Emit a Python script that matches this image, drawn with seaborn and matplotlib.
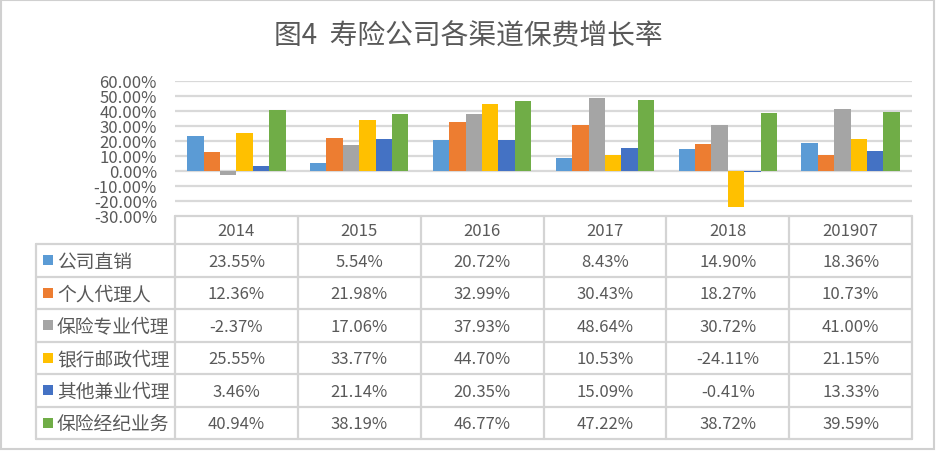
import matplotlib
matplotlib.use("Agg")
import matplotlib.pyplot as plt
import seaborn as sns
import pandas as pd
from matplotlib.patches import Rectangle
from matplotlib.ticker import FuncFormatter

# ---- data ----
title = "图4  寿险公司各渠道保费增长率"
years = ["2014", "2015", "2016", "2017", "2018", "201907"]
channels = ["公司直销", "个人代理人", "保险专业代理", "银行邮政代理", "其他兼业代理", "保险经纪业务"]
direct = [23.55, 5.54, 20.72, 8.43, 14.90, 18.36]
agent = [12.36, 21.98, 32.99, 30.43, 18.27, 10.73]
pro_agency = [-2.37, 17.06, 37.93, 48.64, 30.72, 41.00]
bank_post = [25.55, 33.77, 44.70, 10.53, -24.11, 21.15]
other_agency = [3.46, 21.14, 20.35, 15.09, -0.41, 13.33]
broker = [40.94, 38.19, 46.77, 47.22, 38.72, 39.59]
yticks = [-30, -20, -10, 0, 10, 20, 30, 40, 50, 60]
colors = ["#5B9BD5", "#ED7D31", "#A5A5A5", "#FFC000", "#4472C4", "#70AD47"]

series = [direct, agent, pro_agency, bank_post, other_agency, broker]
df = pd.DataFrame({
    "year": [y for s in series for y in years],
    "channel": [c for c, s in zip(channels, series) for _ in s],
    "value": [v for s in series for v in s],
})

sns.set_theme(style="white")
plt.rcParams["font.family"] = ["Noto Sans CJK SC", "DejaVu Sans"]

W, H = 936, 452
fig = plt.figure(figsize=(W / 100, H / 100), dpi=100)
fig.patch.set_facecolor("white")

txt = "#595959"
gridc = "#D9D9D9"

# plot area (pixel layout)
px0, px1, py_top, py_bot = 175, 912, 82, 217
ax = fig.add_axes([px0 / W, 1 - py_bot / H, (px1 - px0) / W, (py_bot - py_top) / H])
sns.barplot(data=df, x="year", y="value", hue="channel", order=years,
            hue_order=channels, palette=colors, saturation=1, width=0.8,
            linewidth=0, legend=False, ax=ax, zorder=3)
ax.set_xlim(-0.5, len(years) - 0.5)
ax.set_ylim(yticks[0], yticks[-1])
ax.set_yticks(yticks)
ax.yaxis.set_major_formatter(FuncFormatter(lambda v, p: f"{v:.2f}%"))
ax.tick_params(axis="y", labelsize=12, labelcolor=txt, length=0, pad=13)
ax.set_xticks([])
ax.set_xlabel("")
ax.set_ylabel("")
for sp in ax.spines.values():
    sp.set_visible(False)
for t in yticks[1:]:
    ax.axhline(t, color=gridc, lw=1.6, zorder=1)
ax.patch.set_alpha(0)

# overlay for title, table and border
ov = fig.add_axes([0, 0, 1, 1], zorder=-1)
ov.set_xlim(0, W)
ov.set_ylim(H, 0)
ov.axis("off")

ov.add_patch(Rectangle((1, 1), W - 3, H - 3, fill=False, ec="#D0D0D0", lw=1.5))
ov.text(468, 36, title, ha="center", va="center", fontsize=20, color=txt)

# table
lab_x0 = 36
n = len(years)
colw = (px1 - px0) / n
head_top, head_bot = py_bot, 245
row_h = (440 - head_bot) / len(channels)
lc = "#D4D4D4"
lw = 1.6
# horizontal lines
ov.plot([px0, px1], [head_top, head_top], color=lc, lw=lw)
for r in range(len(channels) + 1):
    yy = head_bot + r * row_h
    ov.plot([lab_x0, px1], [yy, yy], color=lc, lw=lw)
# vertical lines
for c in range(n + 1):
    xx = px0 + c * colw
    ov.plot([xx, xx], [head_top, head_bot + len(channels) * row_h], color=lc, lw=lw)
ov.plot([lab_x0, lab_x0], [head_bot, head_bot + len(channels) * row_h], color=lc, lw=lw)

for c, y in enumerate(years):
    ov.text(px0 + (c + 0.5) * colw, (head_top + head_bot) / 2 + 1, y,
            ha="center", va="center", fontsize=12, color=txt)

for r, (name, vals, col) in enumerate(zip(channels, series, colors)):
    yc = head_bot + (r + 0.5) * row_h
    ov.add_patch(Rectangle((43, yc - 5), 10, 10, color=col, lw=0))
    ov.text(57, yc + 1, name, ha="left", va="center", fontsize=13.5, color=txt)
    for c, v in enumerate(vals):
        ov.text(px0 + (c + 0.5) * colw, yc + 1, f"{v:.2f}%",
                ha="center", va="center", fontsize=12, color=txt)

fig.savefig("out.png", dpi=100, facecolor="white")
